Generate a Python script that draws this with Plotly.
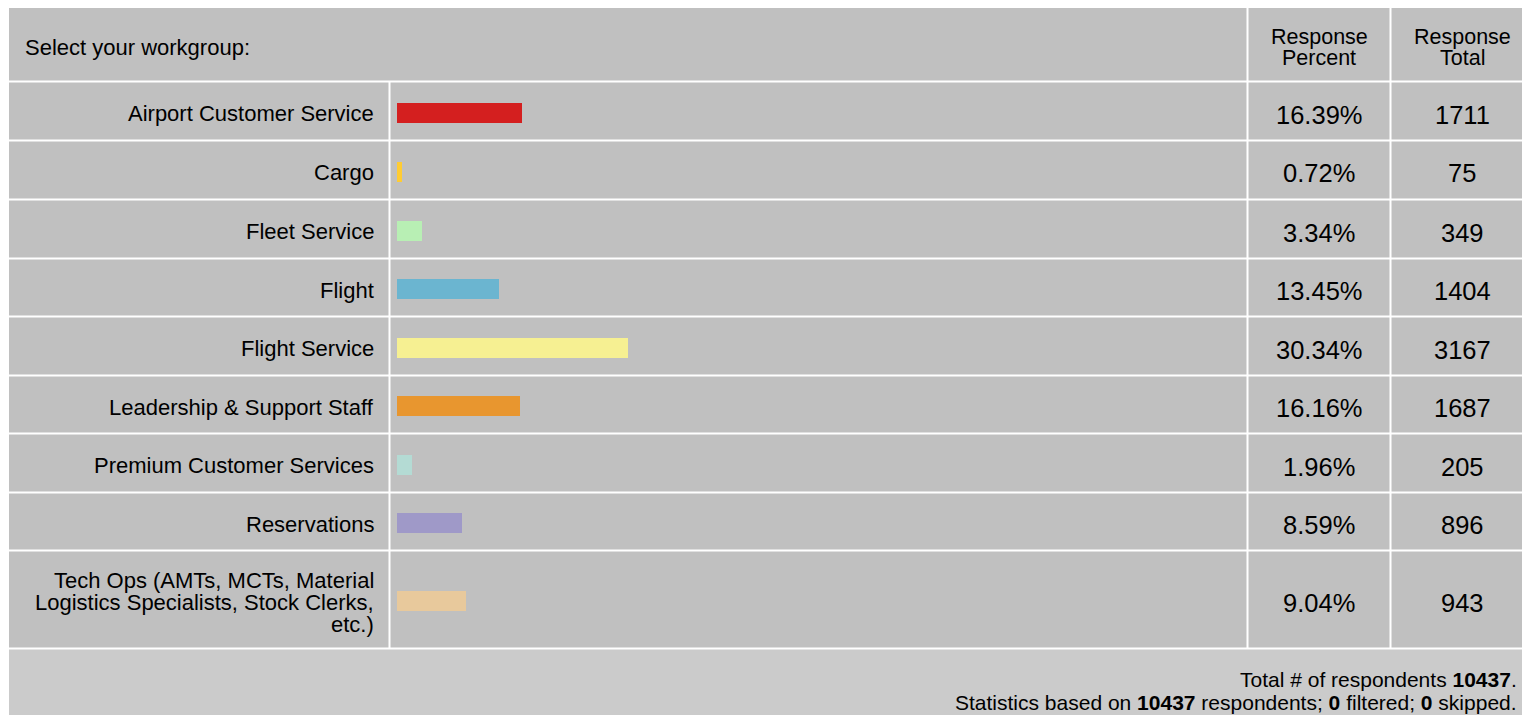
import plotly.graph_objects as go

# ---- data ----
question = "Select your workgroup:"
categories = [
    "Airport Customer Service",
    "Cargo",
    "Fleet Service",
    "Flight",
    "Flight Service",
    "Leadership & Support Staff",
    "Premium Customer Services",
    "Reservations",
    "Tech Ops (AMTs, MCTs, Material\nLogistics Specialists, Stock Clerks,\netc.)",
]
percents = [16.39, 0.72, 3.34, 13.45, 30.34, 16.16, 1.96, 8.59, 9.04]
totals = [1711, 75, 349, 1404, 3167, 1687, 205, 896, 943]
header_cols = ["Response\nPercent", "Response\nTotal"]
total_respondents = 10437
filtered = 0
skipped = 0
bar_colors = ["#d41f1f", "#ffcc33", "#b8efb4", "#6bb5d0", "#f6f092",
              "#e8962f", "#b4dbd4", "#9f99c8", "#e8c99c"]

# ---- layout geometry (pixels) ----
W, H = 1522, 715
TABLE_L, TABLE_R = 9, 1522
TABLE_T = 8
row_edges = [82, 141, 200, 259, 317, 376, 434, 493, 551, 649]
COL_LABEL_R = 389.5
COL_PCT_L = 1247.5
COL_TOT_L = 1390.5
BAR_L = 397
PX_PER_PCT = 7.61
GRID = "#c0c0c0"
FOOT = "#cbcbcb"
FONT = "Liberation Sans, Arial, sans-serif"


def X(px):
    return px / W


def Y(py):
    return 1 - py / H


shapes = []
shapes.append(dict(type="rect", xref="paper", yref="paper", x0=X(TABLE_L), x1=X(TABLE_R),
                   y0=Y(TABLE_T), y1=Y(row_edges[-1]), fillcolor=GRID, line_width=0, layer="below"))
shapes.append(dict(type="rect", xref="paper", yref="paper", x0=X(TABLE_L), x1=X(TABLE_R),
                   y0=Y(row_edges[-1]), y1=Y(H + 5), fillcolor=FOOT, line_width=0, layer="below"))
for e in row_edges:
    yy = e - 0.5
    shapes.append(dict(type="line", xref="paper", yref="paper", x0=X(TABLE_L), x1=X(TABLE_R),
                       y0=Y(yy), y1=Y(yy), line=dict(color="white", width=2), layer="below"))
shapes.append(dict(type="line", xref="paper", yref="paper", x0=X(COL_LABEL_R), x1=X(COL_LABEL_R),
                   y0=Y(row_edges[0]), y1=Y(row_edges[-1]), line=dict(color="white", width=2), layer="below"))
for cx in (COL_PCT_L, COL_TOT_L):
    shapes.append(dict(type="line", xref="paper", yref="paper", x0=X(cx), x1=X(cx),
                       y0=Y(TABLE_T), y1=Y(row_edges[-1]), line=dict(color="white", width=2), layer="below"))

annotations = []


def txt(text, px, py, size, anchor="center"):
    annotations.append(dict(text=text, xref="paper", yref="paper", x=X(px), y=Y(py),
                            xanchor=anchor, yanchor="middle", showarrow=False,
                            font=dict(family=FONT, size=size, color="#000000")))


# header
txt(question, 23, 47, 22, anchor="left")
pct_cx = (COL_PCT_L + COL_TOT_L) / 2
tot_cx = (COL_TOT_L + TABLE_R) / 2 + 6
for cx, head in zip((pct_cx, tot_cx), header_cols):
    for i, ln in enumerate(head.split("\n")):
        txt(ln, cx, 37 + i * 21, 21.5)

# rows
centers = []
for i, (cat, p, t) in enumerate(zip(categories, percents, totals)):
    top, bot = row_edges[i], row_edges[i + 1]
    cy = (top + bot) / 2
    centers.append(cy + 1)
    lines = cat.split("\n")
    n = len(lines)
    for j, ln in enumerate(lines):
        txt(ln, 376, cy + 2 + (j - (n - 1) / 2) * 22, 22, anchor="right")
    txt(f"{p:.2f}%", pct_cx, cy + 3, 25.5)
    txt(f"{t}", tot_cx, cy + 3, 25.5)

# footer
txt(f"Total # of respondents <b>{total_respondents}</b>.", 1519, 679, 21, anchor="right")
txt(f"Statistics based on <b>{total_respondents}</b> respondents; <b>{filtered}</b> filtered; "
    f"<b>{skipped}</b> skipped.", 1519, 702, 21, anchor="right")

fig = go.Figure()
fig.add_trace(go.Bar(
    x=percents, y=centers, orientation="h", width=20,
    marker=dict(color=bar_colors, line=dict(width=0)),
    hoverinfo="skip", showlegend=False,
))

fig.update_layout(
    width=W, height=H,
    margin=dict(l=0, r=0, t=0, b=0),
    paper_bgcolor="white",
    plot_bgcolor="rgba(0,0,0,0)",
    shapes=shapes,
    annotations=annotations,
    xaxis=dict(domain=[X(BAR_L), X(BAR_L + 100 * PX_PER_PCT)], range=[0, 100],
               visible=False, fixedrange=True),
    yaxis=dict(domain=[0, 1], range=[H, 0], visible=False, fixedrange=True),
    bargap=0,
)

fig.write_html("out.html", config={"displayModeBar": False},
               post_script="document.body.style.margin='0';document.body.style.overflow='hidden';")
